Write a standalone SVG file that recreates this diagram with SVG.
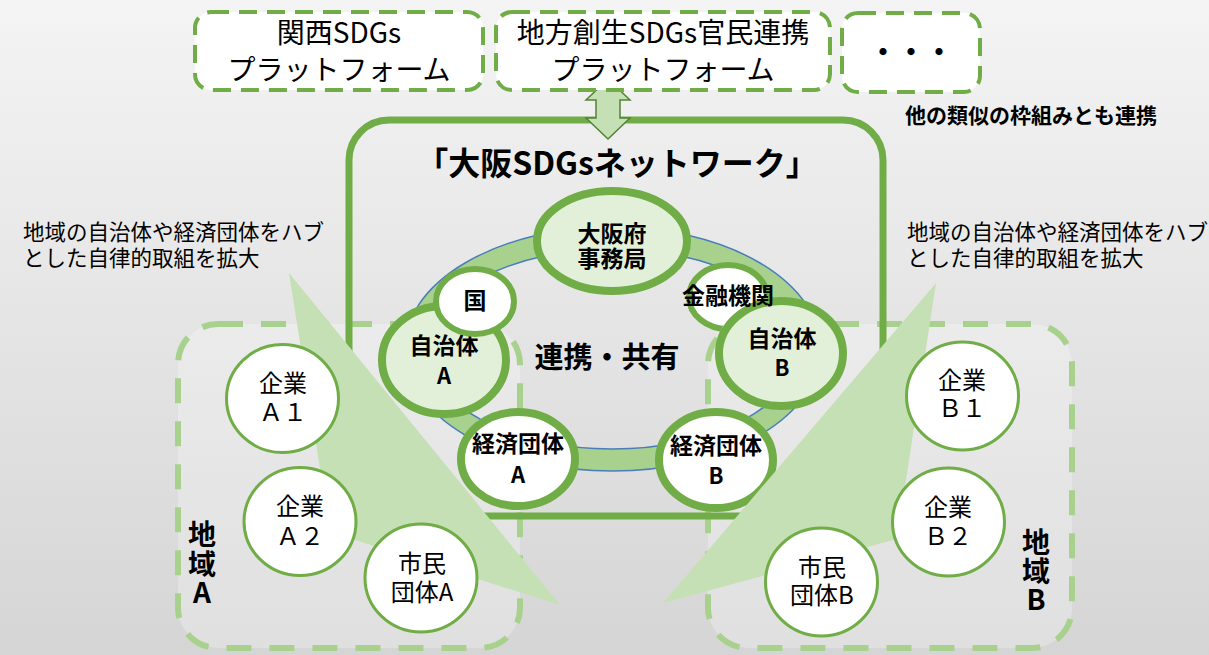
<svg xmlns="http://www.w3.org/2000/svg" width="1209" height="655" viewBox="0 0 1209 655">
<defs>
<linearGradient id="bg" x1="0" y1="0" x2="0" y2="1">
<stop offset="0" stop-color="#f4f4f4"/>
<stop offset="1" stop-color="#d5d5d5"/>
</linearGradient>
<clipPath id="clipKinyu">
<path clip-rule="evenodd" d="M0,0 H1209 V655 H0 Z M715,353.5 a66,56.5 0 1,0 132,0 a66,56.5 0 1,0 -132,0 Z"/>
</clipPath>
</defs>
<style>
text{font-family:"Noto Sans CJK JP","Noto Sans",sans-serif;fill:#000;}
.t{font-size:28px;text-anchor:middle;}
.b{font-weight:bold;}
.nb{font-size:23px;font-weight:bold;text-anchor:middle;}
.ab{font-size:22px;}
.rc{font-size:24px;text-anchor:middle;}
.big{fill:#e2f0d9;stroke:#70ad47;stroke-width:8;}
.bigw{fill:#ffffff;stroke:#70ad47;stroke-width:8;}
.sm{fill:#ffffff;stroke:#70ad47;stroke-width:6;}
.reg{fill:#ffffff;stroke:#70ad47;stroke-width:3;}
.topbox{fill:#ffffff;stroke:#70ad47;stroke-width:4;stroke-dasharray:18 10;}
.region{fill:#ffffff;fill-opacity:0.25;stroke:#a9d18e;stroke-width:6;stroke-dasharray:25 18;}
.tri{fill:#c5e0b4;}
.lbl{font-size:21.5px;}
.vl{font-size:28px;font-weight:bold;text-anchor:middle;}
</style>
<rect x="0" y="0" width="1209" height="655" fill="url(#bg)"/>

<g id="regionA">
<rect class="region" x="178" y="324" width="342" height="324" rx="40"/>
</g>
<g id="regionB">
<rect class="region" x="708" y="324" width="364" height="324" rx="40"/>
</g>

<g id="network">
<rect x="349" y="120" width="534" height="396" rx="40" fill="none" stroke="#70ad47" stroke-width="7"/>
<text class="b" x="617" y="175" font-size="32" text-anchor="middle">「大阪SDGsネットワーク」</text>
<path d="M404.5,349 a208,122 0 1,0 416,0 a208,122 0 1,0 -416,0 Z M426.5,349 a186,100 0 1,0 372,0 a186,100 0 1,0 -372,0 Z" fill="#a9d18e" fill-rule="evenodd" stroke="#4a7ebb" stroke-width="1.5"/>
<text class="b" x="607" y="368" font-size="29" text-anchor="middle">連携・共有</text>
</g>

<g id="connectors">
<path d="M608,79 L630,100 L620,100 L620,118 L630,118 L608,139 L586,118 L596,118 L596,100 L586,100 Z" fill="#c5e0b4" stroke="#548235" stroke-width="1.5" stroke-linejoin="miter"/>
</g>

<g id="box-kansai">
<rect class="topbox" x="195" y="12" width="288" height="78" rx="16"/>
<text class="t" x="339" y="43">関西SDGs<tspan x="339" y="80">プラットフォーム</tspan></text>
</g>
<g id="box-chihou">
<rect class="topbox" x="496" y="12" width="334" height="78" rx="16"/>
<text class="t" x="663" y="43">地方創生SDGs官民連携<tspan x="663" y="80">プラットフォーム</tspan></text>
</g>
<g id="box-other">
<rect class="topbox" x="842" y="13" width="138" height="79" rx="16"/>
<text class="t b" x="911" y="63" font-size="29">・・・</text>
</g>
<text class="b" x="905" y="123" font-size="21">他の類似の枠組みとも連携</text>

<text class="lbl" x="23" y="240">地域の自治体や経済団体をハブ<tspan x="23" y="266">とした自律的取組を拡大</tspan></text>
<text class="lbl" x="907" y="240">地域の自治体や経済団体をハブ<tspan x="907" y="266">とした自律的取組を拡大</tspan></text>

<g id="osaka">
<ellipse class="big" cx="612" cy="241" rx="75" ry="50"/>
<text class="nb" x="612" y="242">大阪府<tspan x="612" y="267">事務局</tspan></text>
</g>
<g id="jichitaiA">
<ellipse class="big" cx="444" cy="360" rx="62" ry="54"/>
<text class="nb" x="444" y="354">自治体<tspan class="ab" x="444" y="384">A</tspan></text>
</g>
<g id="kuni">
<ellipse class="sm" cx="475" cy="301.5" rx="39" ry="32.5"/>
<text class="nb" x="475" y="309">国</text>
</g>
<g id="keizaiA">
<ellipse class="bigw" cx="518" cy="459" rx="57" ry="47"/>
<text class="nb" x="518" y="452">経済団体<tspan class="ab" x="518" y="483">A</tspan></text>
</g>
<g id="keizaiB">
<ellipse class="bigw" cx="716" cy="460" rx="57" ry="48"/>
<text class="nb" x="716" y="454">経済団体<tspan class="ab" x="716" y="484">B</tspan></text>
</g>
<g id="jichitaiB">
<ellipse class="big" cx="781" cy="353.5" rx="62" ry="52.5"/>
<text class="nb" x="782" y="347">自治体<tspan class="ab" x="782" y="376">B</tspan></text>
</g>
<g id="kinyu">
<ellipse class="sm" cx="728" cy="297" rx="39" ry="32" clip-path="url(#clipKinyu)"/>
<text class="nb" x="728" y="304">金融機関</text>
</g>

<g id="triangles">
<polygon class="tri" points="289,273 560,605 330,532"/>
<polygon class="tri" points="936,283 663,603 897,539"/>
</g>

<g id="kigyoA1">
<ellipse class="reg" cx="282.5" cy="398.5" rx="56" ry="54"/>
<text class="rc" x="283" y="392">企業<tspan x="283" y="421">Ａ１</tspan></text>
</g>
<g id="kigyoA2">
<ellipse class="reg" cx="300" cy="521.5" rx="56" ry="54"/>
<text class="rc" x="300" y="515">企業<tspan x="300" y="545">Ａ２</tspan></text>
</g>
<g id="shiminA">
<ellipse class="reg" cx="421" cy="578" rx="56" ry="54"/>
<text class="rc" x="422" y="572">市民<tspan x="422" y="601">団体A</tspan></text>
</g>
<g id="kigyoB1">
<ellipse class="reg" cx="962.5" cy="396" rx="56" ry="54"/>
<text class="rc" x="962" y="389">企業<tspan x="962" y="417">Ｂ１</tspan></text>
</g>
<g id="kigyoB2">
<ellipse class="reg" cx="948.5" cy="522" rx="56" ry="54"/>
<text class="rc" x="948" y="516">企業<tspan x="948" y="545">Ｂ２</tspan></text>
</g>
<g id="shiminB">
<ellipse class="reg" cx="821.5" cy="582" rx="56" ry="54"/>
<text class="rc" x="822" y="576">市民<tspan x="822" y="604">団体B</tspan></text>
</g>

<g id="labelA">
<text class="vl" x="202" y="545">地<tspan x="202" y="575">域</tspan><tspan x="202" y="603">A</tspan></text>
</g>
<g id="labelB">
<text class="vl" x="1036" y="553">地<tspan x="1036" y="582">域</tspan><tspan x="1036" y="610">B</tspan></text>
</g>
</svg>
